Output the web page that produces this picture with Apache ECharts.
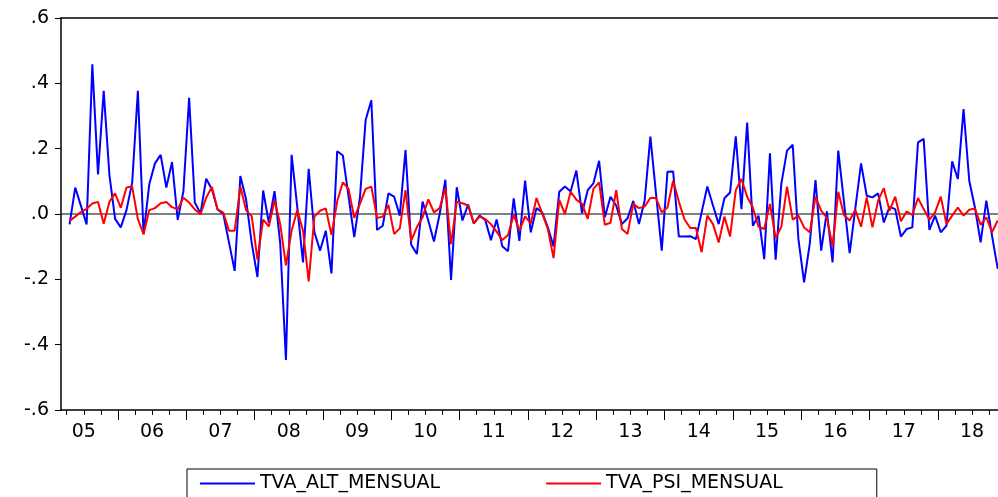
<!DOCTYPE html>
<html>
<head>
<meta charset="utf-8">
<script src="https://cdn.jsdelivr.net/npm/echarts@6/dist/echarts.min.js"></script>
<style>
html,body{margin:0;padding:0;background:#fff;}
#chart{width:998px;height:497px;}
</style>
</head>
<body>
<div id="chart"></div>
<script>
// First observation: April 2005 (month index counted from January 2005 = 0)
const startYear = 2005;
const startMonthIndex = 3;

const altValues = [
 -0.032, 0.081, 0.025, -0.032, 0.458, 0.121, 0.377, 0.12, -0.015, -0.041,
 0.012, 0.096, 0.377, -0.062, 0.091, 0.155, 0.181, 0.081, 0.159, -0.018,
 0.07, 0.356, 0.035, 0.002, 0.108, 0.076, 0.014, 0.0, -0.087, -0.174,
 0.116, 0.045, -0.09, -0.193, 0.072, -0.027, 0.07, -0.09, -0.447, 0.181,
 0.02, -0.148, 0.138, -0.056, -0.112, -0.051, -0.182, 0.192, 0.179, 0.053,
 -0.071, 0.051, 0.288, 0.348, -0.049, -0.036, 0.063, 0.053, -0.005, 0.196,
 -0.094, -0.122, 0.038, -0.02, -0.084, 0.0, 0.105, -0.202, 0.082, -0.02,
 0.029, -0.029, -0.005, -0.018, -0.08, -0.017, -0.099, -0.114, 0.048, -0.082,
 0.102, -0.056, 0.018, 0.005, -0.041, -0.099, 0.068, 0.084, 0.069, 0.133,
 0.002, 0.073, 0.094, 0.163, -0.01, 0.053, 0.026, -0.031, -0.013, 0.04,
 -0.031, 0.041, 0.237, 0.061, -0.112, 0.129, 0.13, -0.069, -0.069, -0.068,
 -0.077, 0.005, 0.084, 0.026, -0.031, 0.048, 0.066, 0.238, 0.015, 0.28,
 -0.036, -0.005, -0.138, 0.186, -0.14, 0.092, 0.194, 0.212, -0.077, -0.209,
 -0.09, 0.104, -0.112, 0.008, -0.148, 0.194, 0.037, -0.12, 0.018, 0.155,
 0.056, 0.051, 0.063, -0.026, 0.022, 0.015, -0.069, -0.046, -0.041, 0.219,
 0.23, -0.049, -0.005, -0.056, -0.036, 0.161, 0.107, 0.321, 0.102, 0.02,
 -0.087, 0.041, -0.066, -0.168
];

const psiValues = [
 -0.021, -0.008, 0.006, 0.016, 0.032, 0.037, -0.03, 0.037, 0.063, 0.019,
 0.081, 0.084, -0.016, -0.062, 0.012, 0.018, 0.033, 0.037, 0.021, 0.014,
 0.05, 0.035, 0.014, -0.001, 0.05, 0.083, 0.014, 0.004, -0.051, -0.051,
 0.084, 0.012, -0.007, -0.14, -0.017, -0.038, 0.042, -0.031, -0.157, -0.051,
 0.012, -0.051, -0.206, -0.008, 0.01, 0.017, -0.064, 0.038, 0.097, 0.077,
 -0.012, 0.031, 0.077, 0.084, -0.012, -0.008, 0.028, -0.061, -0.044, 0.073,
 -0.082, -0.04, -0.01, 0.045, 0.005, 0.018, 0.079, -0.092, 0.038, 0.033,
 0.026, -0.029, -0.008, -0.015, -0.031, -0.054, -0.08, -0.064, -0.002, -0.051,
 -0.007, -0.029, 0.049, 0.002, -0.046, -0.135, 0.043, 0.0, 0.068, 0.044,
 0.031, -0.015, 0.077, 0.097, -0.033, -0.027, 0.073, -0.046, -0.061, 0.031,
 0.018, 0.023, 0.049, 0.049, 0.005, 0.02, 0.102, 0.038, -0.017, -0.043,
 -0.043, -0.117, -0.005, -0.031, -0.087, -0.008, -0.069, 0.073, 0.107, 0.053,
 0.02, -0.039, -0.046, 0.031, -0.074, -0.039, 0.084, -0.017, -0.005, -0.041,
 -0.056, 0.053, 0.01, -0.012, -0.099, 0.068, -0.003, -0.02, 0.013, -0.039,
 0.051, -0.041, 0.041, 0.079, 0.01, 0.053, -0.022, 0.008, -0.003, 0.049,
 0.015, -0.017, 0.005, 0.053, -0.031, -0.005, 0.02, -0.005, 0.013, 0.017,
 -0.033, -0.01, -0.056, -0.02
];

const seriesNames = ['TVA_ALT_MENSUAL', 'TVA_PSI_MENSUAL'];
const yearLabels = ['05','06','07','08','09','10','11','12','13','14','15','16','17','18'];
const yTickLabels = ['-.6','-.4','-.2','.0','.2','.4','.6'];

// month categories (e.g. 2005M04 ...)
const months = altValues.map((_, i) => {
  const m = startMonthIndex + i;
  return (startYear + Math.floor(m / 12)) + 'M' + String(m % 12 + 1).padStart(2, '0');
});

const xMin = startMonthIndex - 1.5;
const xMax = startMonthIndex + altValues.length - 1 + 0.05;

const quarterTicks = [];
for (let q = 2.5; q < xMax; q += 3) quarterTicks.push(q);
const yearTicks = yearLabels.map((_, i) => 11.5 + 12 * i).filter(v => v < xMax);
const yearMids = yearLabels.map((_, i) => 5.5 + 12 * i);

const altData = altValues.map((v, i) => [startMonthIndex + i, v]);
const psiData = psiValues.map((v, i) => [startMonthIndex + i, v]);

const FONT = 'DejaVu Sans';
const chart = echarts.init(document.getElementById('chart'), null, {renderer: 'canvas'});
chart.setOption({
  animation: false,
  backgroundColor: '#ffffff',
  grid: {left: 61, right: 0, top: 18, bottom: 87, containLabel: false},
  legend: {
    data: seriesNames,
    left: 187, top: 469,
    orient: 'horizontal',
    icon: 'rect',
    itemWidth: 55, itemHeight: 2,
    itemGap: 106,
    padding: [5, 94, 20, 13],
    borderColor: '#000', borderWidth: 1,
    textStyle: {fontFamily: FONT, fontSize: 19, color: '#000'}
  },
  xAxis: [
    {
      type: 'value', min: xMin, max: xMax, position: 'bottom',
      axisLine: {show: true, onZero: false, lineStyle: {color: '#000', width: 1.5}},
      axisTick: {show: true, customValues: quarterTicks, length: 5, lineStyle: {color: '#000', width: 1}},
      axisLabel: {show: true, customValues: yearMids, margin: 13, color: '#000',
        fontFamily: FONT, fontSize: 19,
        formatter: v => yearLabels[Math.round((v - 5.5) / 12)]},
      splitLine: {show: false}
    },
    {
      type: 'value', min: xMin, max: xMax, position: 'bottom',
      axisLine: {show: false, onZero: false},
      axisTick: {show: true, customValues: yearTicks, length: 10, lineStyle: {color: '#000', width: 1}},
      axisLabel: {show: false},
      splitLine: {show: false}
    },
    {
      type: 'value', min: xMin, max: xMax, position: 'top',
      axisLine: {show: true, onZero: false, lineStyle: {color: '#000', width: 1.5}},
      axisTick: {show: false}, axisLabel: {show: false}, splitLine: {show: false}
    }
  ],
  yAxis: {
    type: 'value', min: -0.6, max: 0.6, interval: 0.2,
    axisLine: {show: true, onZero: false, lineStyle: {color: '#000', width: 1.5}},
    axisTick: {show: true, length: 6, lineStyle: {color: '#000'}},
    axisLabel: {margin: 12, color: '#000', fontFamily: FONT, fontSize: 19,
      formatter: v => yTickLabels[Math.round((v + 0.6) / 0.2)]},
    splitLine: {show: true, lineStyle: {width: 2,
      color: ['rgba(0,0,0,0)','rgba(0,0,0,0)','rgba(0,0,0,0)','#808080','rgba(0,0,0,0)','rgba(0,0,0,0)','rgba(0,0,0,0)']}}
  },
  series: [
    {name: seriesNames[0], type: 'line', xAxisIndex: 0, data: altData, showSymbol: false,
     lineStyle: {color: '#0000ff', width: 2}, itemStyle: {color: '#0000ff'}},
    {name: seriesNames[1], type: 'line', xAxisIndex: 0, data: psiData, showSymbol: false,
     lineStyle: {color: '#ff0000', width: 2}, itemStyle: {color: '#ff0000'}}
  ]
});
</script>
</body>
</html>
